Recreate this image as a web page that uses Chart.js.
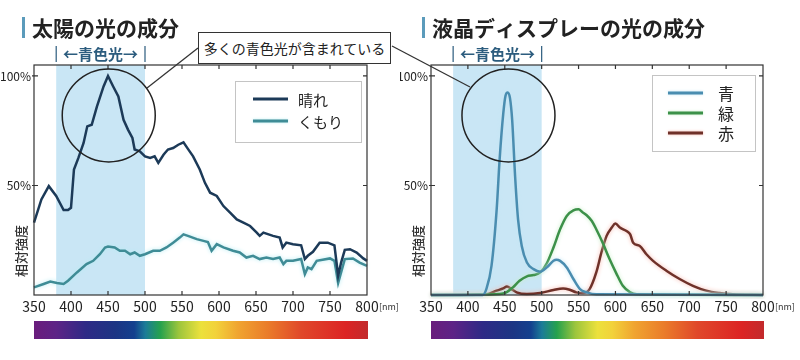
<!DOCTYPE html>
<html lang="ja">
<head>
<meta charset="utf-8">
<script src="https://cdn.jsdelivr.net/npm/chart.js@4.4.1/dist/chart.umd.min.js"></script>
<style>
  html, body { margin: 0; padding: 0; background: #fff; }
  #wrap { position: relative; width: 800px; height: 360px; overflow: hidden; font-family: "Noto Sans CJK JP", "Noto Sans", sans-serif; }
  #wrap canvas { position: absolute; top: 0; }
  #sunChart { left: 0; }
  #lcdChart { left: 400px; }
  #leaders { position: absolute; left: 0; top: 0; }
  #callout { position: absolute; left: 198px; top: 32px; width: 191px; height: 30px; border: 1.5px solid #333; background: #fff;
             font-size: 14px; line-height: 30px; text-align: center; color: #222; white-space: nowrap; }
</style>
</head>
<body>
<div id="wrap">
  <canvas id="sunChart" width="400" height="360"></canvas>
  <canvas id="lcdChart" width="400" height="360"></canvas>
  <svg id="leaders" width="800" height="360">
    <line x1="198" y1="48" x2="147" y2="88" stroke="#333" stroke-width="1.3"/>
    <line x1="392" y1="46" x2="470" y2="87" stroke="#333" stroke-width="1.3"/>
  </svg>
  <div id="callout">多くの青色光が含まれている</div>
</div>
<script>
// 軸・目盛り
const xTickNm = [350, 400, 450, 500, 550, 600, 650, 700, 750, 800];
const yTickPct = [50, 100];
const bandNm = [380, 500];   // 青色光の範囲

// 太陽の光（晴れ／くもり）
const clearNm = [350,360,370,380,390,396,400,404,410,417,422,428,435,444,450,457,464,471,477,483,
                 486,493,500,507,513,518,525,531,538,545,552,558,565,574,581,588,597,606,615,624,
                 633,642,651,655,660,673,682,686,691,700,711,716,720,727,736,747,756,761,765,770,
                 777,786,795,800];
const clearSky = [33,43.6,49.7,45.2,38.8,38.8,39.8,57.3,62.6,69.4,77,77.7,86,95.2,100,95.2,90.6,80,75.5,71.7,
                  66.4,65.6,63.3,62.6,63.3,60.3,64,66.4,67.1,68.6,69.7,66.7,63.3,57.3,51.2,46.7,45.2,40.6,37.6,34.5,
                  33,31.5,28.5,27,28.5,27,26.2,21.7,23.9,23.2,22.7,16.4,17.9,19.7,23.9,23.9,22.7,8.8,14.8,20.6,
                  20.9,19.4,16.7,15.6];
const cloudNm = [350,363,372,381,390,396,408,421,430,439,446,450,459,466,473,480,486,493,500,511,
                 520,529,538,547,552,558,570,579,585,590,597,606,619,628,637,646,655,664,673,682,
                 687,691,700,711,716,720,725,732,750,756,761,765,770,781,790,800];
const cloudy = [3.5,5,6.1,5.5,5,6.5,10.3,14.1,15.6,18.6,21.7,22.1,21.7,20.2,20.2,18.6,19.4,17.9,18.6,20.2,
                20.2,21.7,23.9,26.2,27.7,27,25.5,24.7,24.2,20.2,23.2,21.7,20.2,19.4,17.1,17.9,16.4,17.1,16.4,17.1,
                14.1,15.6,15.6,16.4,9.5,12.6,11.8,15.6,16.7,15.6,5.5,10.3,16.4,16.7,14.8,13.3];

// 液晶ディスプレー（青／緑／赤）
const blueNm = [350,420,425,432,439,443,448,451,454,457,460,464,468,473,480,489,498,507,516,520,525,534,543,552,561,574,800];
const blueVal = [0,0,2.7,13.3,39,61.8,83,91,92.5,90,80,54.2,34.5,22.4,14.8,11.8,10.6,12.6,15.6,16.1,15.6,12.6,7.3,2.7,1.2,0.3,0];
const greenNm = [350,443,452,461,470,480,489,498,507,516,525,534,543,550,555,561,568,574,583,592,601,610,620,629,800];
const greenVal = [0,0.5,1.2,3.5,6.5,8.5,9.1,10.3,14.5,21.7,30,36.1,38.6,39.1,37.9,36.4,33.8,30,23.6,16.4,10,4.2,1.2,0.3,0];
const redNm = [350,425,439,448,453,459,466,480,498,516,529,538,547,556,565,574,581,588,595,600,
               606,615,620,624,633,642,651,669,687,705,723,741,759,800];
const redVal = [0,0.3,2,3,3.9,2.7,1.2,0.4,0.9,2.3,3,2.4,1.2,0.9,2.7,10.3,19.4,27,30.8,32.6,
                30.8,29.2,27.7,23.9,22.4,18.6,15.6,11.1,7.3,4.2,2,0.9,0.3,0];

// スペクトルバーの色
const spectrumNm = [350, 380, 420, 460, 485, 500, 520, 545, 575, 595, 625, 665, 710, 770, 800];
const spectrumColors = ['#6a1d7c','#5d2386','#2e2a86','#1c3584','#13408e','#1b7c98','#25a14e','#9cc53c',
                        '#ece13c','#f2d23a','#f0a430','#ea7c2a','#e0482a','#dc2424','#c22a2c'];

const FONT = "'Noto Sans CJK JP', 'Noto Sans', sans-serif";

function pts(nm, vals) {
  return nm.map((n, i) => ({ x: n, y: vals[i] }));
}

const decor = {
  id: 'decor',
  beforeDatasetsDraw(chart) {
    const { ctx, chartArea: a, scales: { x } } = chart;
    const b0 = x.getPixelForValue(bandNm[0]), b1 = x.getPixelForValue(bandNm[1]);
    ctx.save();
    ctx.fillStyle = '#c9e6f5';
    ctx.fillRect(b0, a.top, b1 - b0, a.bottom - a.top);
    ctx.restore();
  },
  beforeDatasetDraw(chart, args) {
    const ds = chart.data.datasets[args.index];
    chart.ctx.save();
    if (ds.glow) {
      chart.ctx.shadowColor = ds.glow;
      chart.ctx.shadowBlur = 4;
    }
  },
  afterDatasetDraw(chart) {
    chart.ctx.restore();
  },
  afterDraw(chart, args, o) {
    const { ctx, chartArea: a, scales: { x, y } } = chart;
    ctx.save();

    // 枠と内向きの目盛り
    ctx.strokeStyle = '#333';
    ctx.lineWidth = 1.2;
    ctx.strokeRect(a.left, a.top, a.right - a.left, a.bottom - a.top);
    ctx.beginPath();
    x.ticks.forEach(t => {
      const px = x.getPixelForValue(t.value);
      if (px <= a.left + 1 || px >= a.right - 1) return;
      ctx.moveTo(px, a.top); ctx.lineTo(px, a.top + 4);
      ctx.moveTo(px, a.bottom); ctx.lineTo(px, a.bottom - 4);
    });
    y.ticks.forEach(t => {
      const py = y.getPixelForValue(t.value);
      ctx.moveTo(a.left - 2, py); ctx.lineTo(a.left + 4, py);
      ctx.moveTo(a.right, py); ctx.lineTo(a.right - 4, py);
    });
    ctx.stroke();

    // 丸
    ctx.lineWidth = 1.5;
    ctx.strokeStyle = '#222';
    ctx.beginPath();
    ctx.arc(x.getPixelForValue(o.circle[0]), y.getPixelForValue(o.circle[1]), 46.5, 0, Math.PI * 2);
    ctx.stroke();

    // 凡例
    const L = o.legend;
    ctx.fillStyle = '#fff';
    ctx.fillRect(L.left, L.top, L.width, L.height);
    ctx.strokeStyle = '#c4c4c4';
    ctx.lineWidth = 1;
    ctx.strokeRect(L.left + 0.5, L.top + 0.5, L.width, L.height);
    ctx.font = L.fontSize + 'px ' + FONT;
    ctx.textBaseline = 'middle';
    ctx.textAlign = 'left';
    chart.data.datasets.forEach((ds, i) => {
      const ry = L.rowY + i * L.gap;
      ctx.save();
      if (ds.glow) { ctx.shadowColor = ds.glow; ctx.shadowBlur = 3; }
      ctx.strokeStyle = ds.borderColor;
      ctx.lineWidth = 3;
      ctx.beginPath();
      ctx.moveTo(L.lineX, ry); ctx.lineTo(L.lineX + 35, ry);
      ctx.stroke();
      ctx.restore();
      ctx.fillStyle = '#222';
      ctx.fillText(ds.label, L.textX, ry + 1);
    });

    // タイトル
    ctx.fillStyle = '#5b9bbb';
    ctx.fillRect(22, 17, 3, 21);
    ctx.fillStyle = '#222';
    ctx.font = 'bold 21px ' + FONT;
    ctx.fillText(o.title, 32, 28);

    // 青色光ラベル
    const b0 = x.getPixelForValue(bandNm[0]), b1 = x.getPixelForValue(bandNm[1]);
    ctx.strokeStyle = '#2c5c7e';
    ctx.lineWidth = 1.2;
    ctx.beginPath();
    ctx.moveTo(b0, 46); ctx.lineTo(b0, 62);
    ctx.moveTo(b1, 46); ctx.lineTo(b1, 62);
    ctx.stroke();
    ctx.fillStyle = '#2c5c7e';
    ctx.font = 'bold 15px ' + FONT;
    ctx.textAlign = 'center';
    ctx.fillText('←青色光→', (b0 + b1) / 2, 54);

    // 縦軸ラベル
    ctx.save();
    ctx.translate(o.yLabelX, 251);
    ctx.rotate(-Math.PI / 2);
    ctx.fillStyle = '#333';
    ctx.font = '500 13px ' + FONT;
    ctx.fillText('相対強度', 0, 0);
    ctx.restore();

    // [nm]
    ctx.textAlign = 'left';
    ctx.fillStyle = '#333';
    ctx.font = '9px ' + FONT;
    ctx.fillText('[nm]', a.right + 12, 307);

    // スペクトルバー
    const s0 = x.getPixelForValue(350), s1 = x.getPixelForValue(800) + 1;
    const g = ctx.createLinearGradient(s0, 0, s1, 0);
    spectrumNm.forEach((n, i) => g.addColorStop((n - 350) / 450, spectrumColors[i]));
    ctx.fillStyle = g;
    ctx.fillRect(s0, 321, s1 - s0, 18);

    ctx.restore();
  }
};

function makeOptions(cfg) {
  return {
    responsive: false,
    animation: false,
    layout: { padding: { top: 65, right: cfg.padRight, left: 0, bottom: 0 } },
    plugins: {
      legend: { display: false },
      tooltip: { enabled: false },
      decor: cfg.decor
    },
    scales: {
      x: {
        type: 'linear',
        min: 350,
        max: 800,
        grid: { display: false, drawTicks: false },
        border: { display: false },
        afterBuildTicks: s => { s.ticks = xTickNm.map(v => ({ value: v })); },
        afterFit: s => { s.height = 65; },
        ticks: { autoSkip: false, maxRotation: 0, padding: 3, color: '#222', font: { family: FONT, size: 14 } }
      },
      y: {
        min: 0,
        max: 105,
        grid: { display: false, drawTicks: false },
        border: { display: false },
        afterBuildTicks: s => { s.ticks = yTickPct.map(v => ({ value: v })); },
        afterFit: s => { s.width = cfg.yWidth; },
        ticks: { padding: 3, color: '#222', font: { family: FONT, size: 12 }, callback: v => v + '%' }
      }
    }
  };
}

new Chart(document.getElementById('sunChart'), {
  type: 'line',
  data: {
    datasets: [
      { label: '晴れ', data: pts(clearNm, clearSky), borderColor: '#1c3a58', borderWidth: 2.5, pointRadius: 0, tension: 0, clip: 4 },
      { label: 'くもり', data: pts(cloudNm, cloudy), borderColor: '#3f8c96', glow: '#b8ecf3', borderWidth: 2.5, pointRadius: 0, tension: 0, clip: 4 }
    ]
  },
  options: makeOptions({
    padRight: 33,
    yWidth: 34,
    decor: {
      title: '太陽の光の成分',
      circle: [451, 82],
      yLabelX: 21,
      legend: { left: 235, top: 81, width: 126, height: 61, lineX: 253, textX: 298, rowY: 99, gap: 22, fontSize: 15 }
    }
  }),
  plugins: [decor]
});

new Chart(document.getElementById('lcdChart'), {
  type: 'line',
  data: {
    datasets: [
      { label: '青', data: pts(blueNm, blueVal), borderColor: '#4a8db0', glow: '#c4e6f4', borderWidth: 2.5, pointRadius: 0, cubicInterpolationMode: 'monotone', clip: 4 },
      { label: '緑', data: pts(greenNm, greenVal), borderColor: '#3c9149', glow: '#c9eec9', borderWidth: 2.5, pointRadius: 0, cubicInterpolationMode: 'monotone', clip: 4 },
      { label: '赤', data: pts(redNm, redVal), borderColor: '#6f3129', glow: '#f7b8ae', borderWidth: 2.5, pointRadius: 0, cubicInterpolationMode: 'monotone', clip: 4 }
    ]
  },
  options: makeOptions({
    padRight: 37,
    yWidth: 31,
    decor: {
      title: '液晶ディスプレーの光の成分',
      circle: [455, 82],
      yLabelX: 18,
      legend: { left: 252, top: 75, width: 103, height: 76, lineX: 268, textX: 318, rowY: 93, gap: 20, fontSize: 16 }
    }
  }),
  plugins: [decor]
});
</script>
</body>
</html>
